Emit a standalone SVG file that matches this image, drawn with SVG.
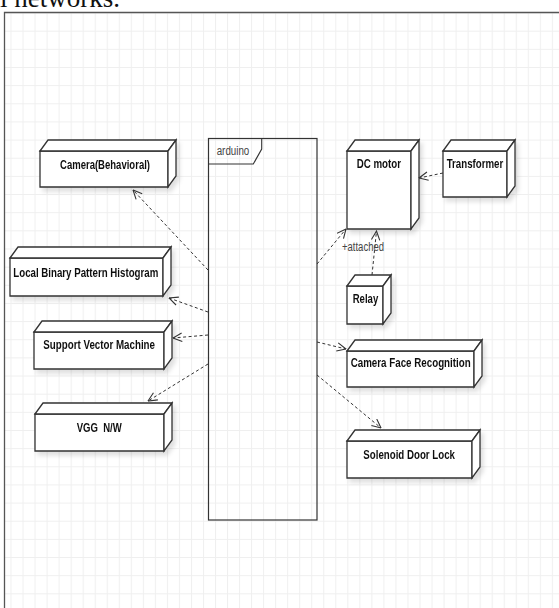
<svg xmlns="http://www.w3.org/2000/svg" width="559" height="608" viewBox="0 0 559 608">
<style>
.node path{fill:#fff;stroke:#333;stroke-width:1.3;stroke-linejoin:miter}
.lbl{font-family:"Liberation Sans",Arial,sans-serif;font-size:13px;font-weight:bold;fill:#111;text-anchor:start}
.thin{font-family:"Liberation Sans",Arial,sans-serif;font-size:12.5px;fill:#444}
.conn line{stroke:#333;stroke-width:1;stroke-dasharray:3 2.5;fill:none}
</style>
<defs>
<pattern id="grid" patternUnits="userSpaceOnUse" x="10.5" y="12.55" width="12.03" height="18.15">
<path d="M0 0.5H12.03M0.5 0V18.15" stroke="#efefef" stroke-width="1" fill="none"/>
</pattern>
<filter id="sh" x="-10%" y="-10%" width="130%" height="140%">
<feDropShadow dx="3" dy="4" stdDeviation="2" flood-color="#000" flood-opacity="0.12"/>
</filter>
<marker id="arr" viewBox="0 0 10 10" refX="9.5" refY="5" markerWidth="10" markerHeight="10" markerUnits="userSpaceOnUse" orient="auto">
<path d="M0.5 0.8L9.5 5L0.5 9.2" fill="none" stroke="#333" stroke-width="1.1"/>
</marker>
</defs>
<rect width="559" height="608" fill="#fff"/>
<rect x="4" y="12" width="555" height="596" fill="url(#grid)"/>
<path d="M4.5 608V12.5H559" fill="none" stroke="#555" stroke-width="1.3"/>
<text x="120" y="7" font-family="Liberation Serif,serif" font-size="27" fill="#111" text-anchor="end">al networks.</text>

<g id="arduino">
<rect x="208.5" y="138.5" width="108.5" height="381.5" fill="none" stroke="#333" stroke-width="1.2"/>
<path d="M208.5 138.5H261.7V149L253.3 164H208.5" fill="none" stroke="#333" stroke-width="1.1"/>
<text class="thin" x="216.7" y="155" textLength="32.6" lengthAdjust="spacingAndGlyphs">arduino</text>
</g>

<g id="camera-behavioral" class="node" filter="url(#sh)">
<path d="M40 151H168V187H40Z"/><path d="M40 151L48 140H176L168 151Z"/><path d="M168 151L176 140V176L168 187Z"/>
<text class="lbl" x="60" y="169" textLength="90" lengthAdjust="spacingAndGlyphs">Camera(Behavioral)</text>
</g>
<g id="lbph" class="node" filter="url(#sh)">
<path d="M10 258H163V296H10Z"/><path d="M10 258L18 247H171L163 258Z"/><path d="M163 258L171 247V285L163 296Z"/>
<text class="lbl" x="13.3" y="277" textLength="145" lengthAdjust="spacingAndGlyphs">Local Binary Pattern Histogram</text>
</g>
<g id="svm" class="node" filter="url(#sh)">
<path d="M34 332H164V369H34Z"/><path d="M34 332L42 321H172L164 332Z"/><path d="M164 332L172 321V358L164 369Z"/>
<text class="lbl" x="43.3" y="349" textLength="111.7" lengthAdjust="spacingAndGlyphs">Support Vector Machine</text>
</g>
<g id="vgg" class="node" filter="url(#sh)">
<path d="M35 414H164V451H35Z"/><path d="M35 414L43 403H172L164 414Z"/><path d="M164 414L172 403V440L164 451Z"/>
<text class="lbl" x="76.7" y="431.5" textLength="45" lengthAdjust="spacingAndGlyphs" xml:space="preserve">VGG  N/W</text>
</g>
<g id="dc-motor" class="node" filter="url(#sh)">
<path d="M347 151H411V229H347Z"/><path d="M347 151L355 140H419L411 151Z"/><path d="M411 151L419 140V218L411 229Z"/>
<text class="lbl" x="356.7" y="168" textLength="44.3" lengthAdjust="spacingAndGlyphs">DC motor</text>
</g>
<g id="transformer" class="node" filter="url(#sh)">
<path d="M443 151H507V197H443Z"/><path d="M443 151L451 140H515L507 151Z"/><path d="M507 151L515 140V186L507 197Z"/>
<text class="lbl" x="446.7" y="168" textLength="56.6" lengthAdjust="spacingAndGlyphs">Transformer</text>
</g>
<g id="relay" class="node" filter="url(#sh)">
<path d="M347 286H383V324H347Z"/><path d="M347 286L355 275H391L383 286Z"/><path d="M383 286L391 275V313L383 324Z"/>
<text class="lbl" x="352.7" y="303" textLength="25.6" lengthAdjust="spacingAndGlyphs">Relay</text>
</g>
<g id="camera-face-recognition" class="node" filter="url(#sh)">
<path d="M347 351H474V387H347Z"/><path d="M347 351L355 340H482L474 351Z"/><path d="M474 351L482 340V376L474 387Z"/>
<text class="lbl" x="350.7" y="367" textLength="120" lengthAdjust="spacingAndGlyphs">Camera Face Recognition</text>
</g>
<g id="solenoid-door-lock" class="node" filter="url(#sh)">
<path d="M347 441H472V478H347Z"/><path d="M347 441L355 430H480L472 441Z"/><path d="M472 441L480 430V467L472 478Z"/>
<text class="lbl" x="363.3" y="459" textLength="91.7" lengthAdjust="spacingAndGlyphs">Solenoid Door Lock</text>
</g>

<g id="connectors" class="conn">
<line x1="208" y1="270" x2="133" y2="190" marker-end="url(#arr)"/>
<line x1="208" y1="312" x2="169" y2="298" marker-end="url(#arr)"/>
<line x1="208" y1="335" x2="173" y2="338" marker-end="url(#arr)"/>
<line x1="208" y1="364" x2="148" y2="401" marker-end="url(#arr)"/>
<line x1="317" y1="264" x2="346" y2="229" marker-end="url(#arr)"/>
<line x1="372" y1="275" x2="376.5" y2="231" marker-end="url(#arr)"/>
<line x1="443" y1="173" x2="419" y2="178" marker-end="url(#arr)"/>
<line x1="317" y1="342" x2="346" y2="349" marker-end="url(#arr)"/>
<line x1="317" y1="375" x2="381" y2="428" marker-end="url(#arr)"/>
<text class="thin" x="342" y="250.5" textLength="42" lengthAdjust="spacingAndGlyphs">+attached</text>
</g>
</svg>
